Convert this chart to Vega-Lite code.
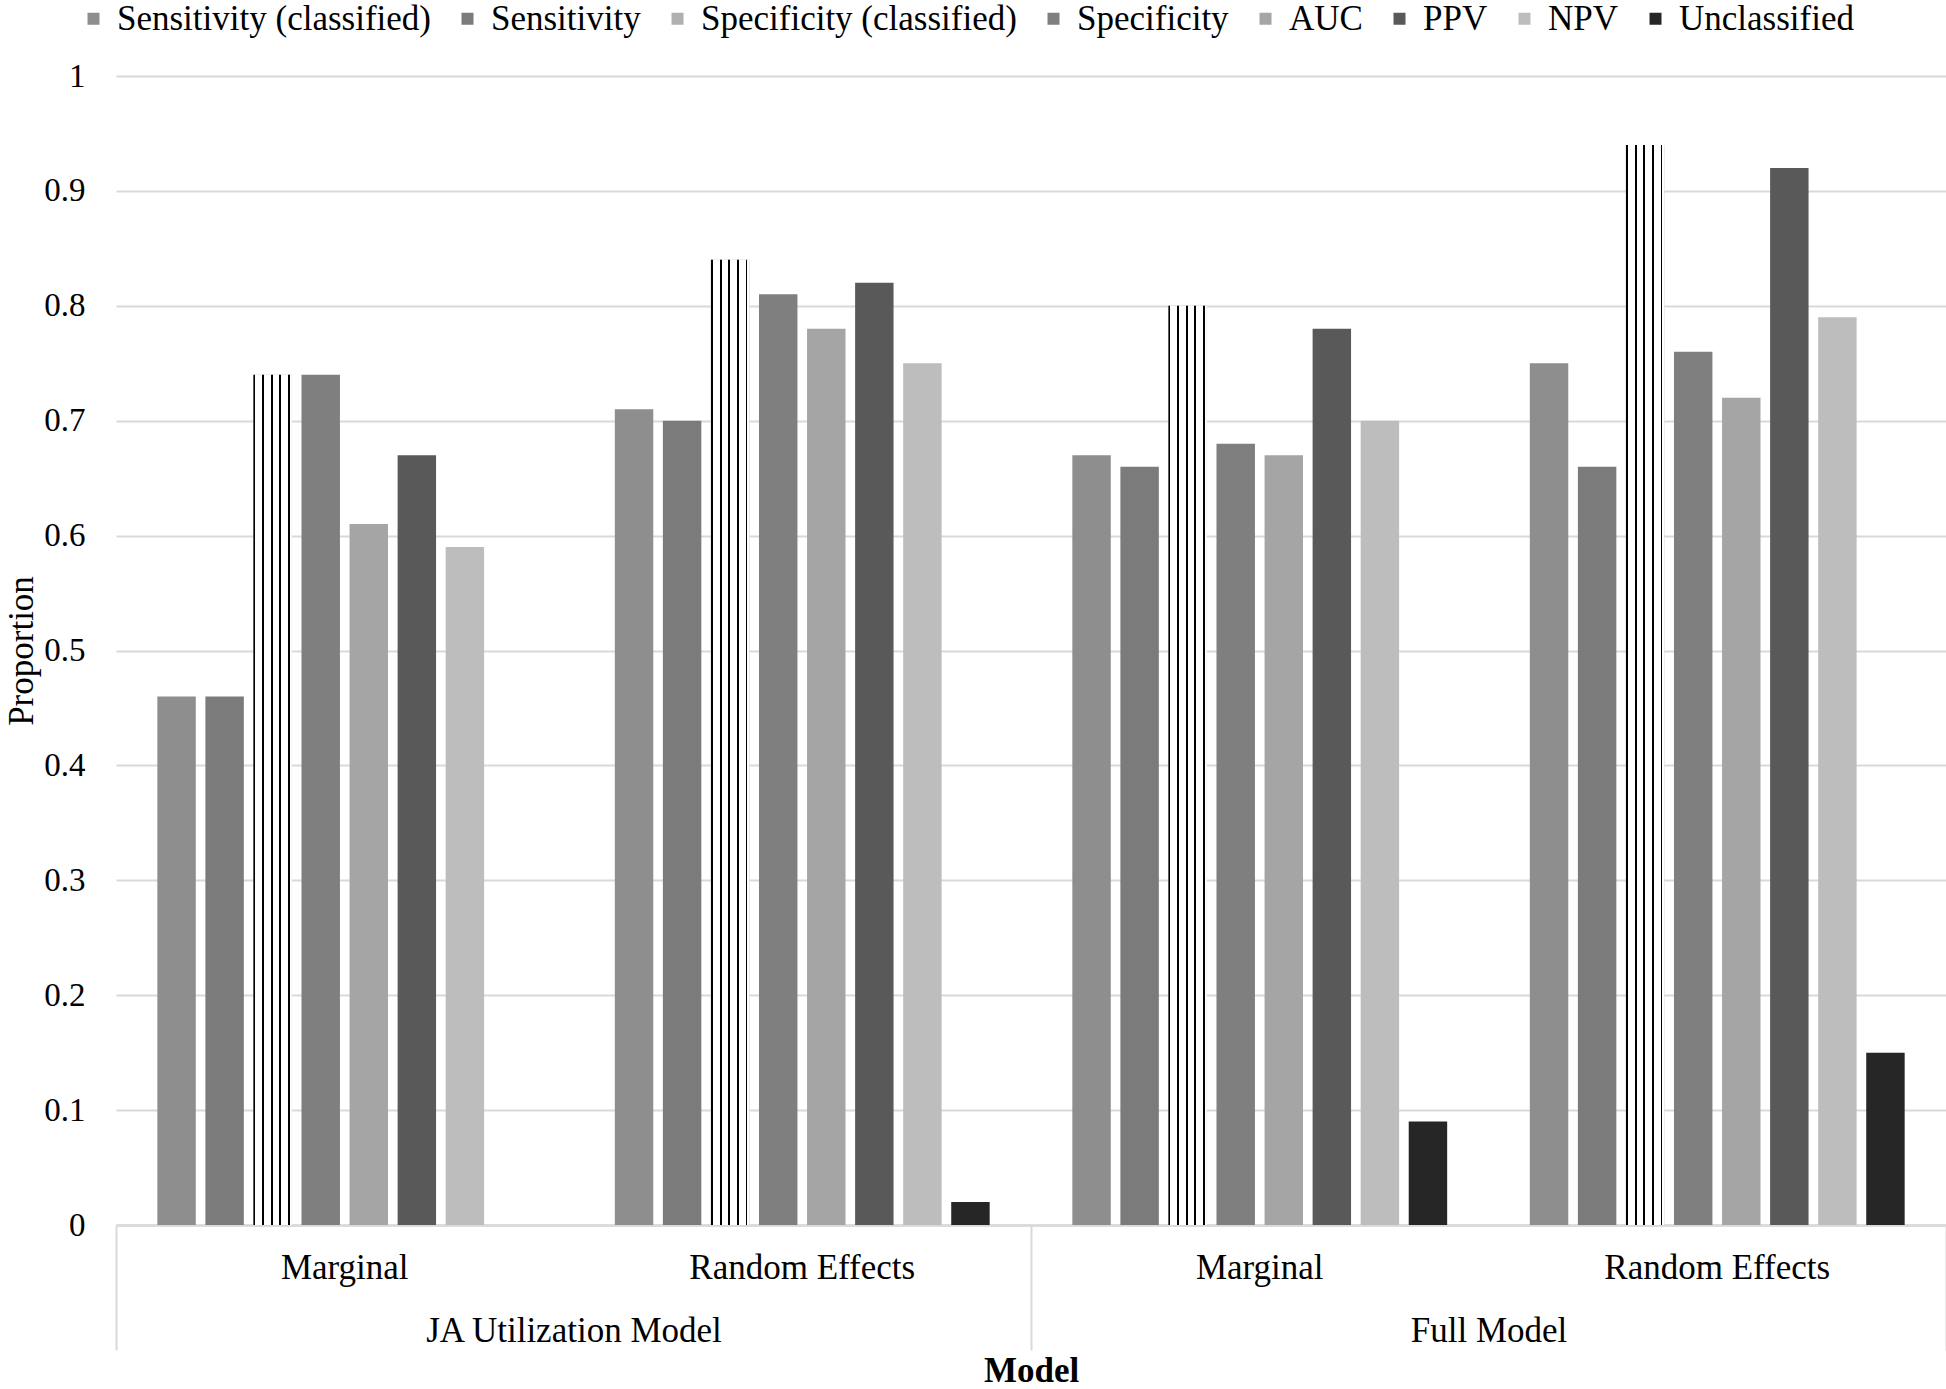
{
  "$schema": "https://vega.github.io/schema/vega-lite/v6.json",
  "width": 1830,
  "height": 1149,
  "autosize": {"type": "none"},
  "padding": {"left": 116, "top": 76, "right": 0, "bottom": 164},
  "background": "white",
  "config": {
    "font": "Liberation Serif",
    "view": {"stroke": null},
    "axis": {"labelFont": "Liberation Serif", "titleFont": "Liberation Serif", "labelColor": "#000000", "titleColor": "#000000", "labelLimit": 1000}
  },
  "data": {
    "values": [
      {"Group": "JA Utilization Model", "Type": "Marginal", "Cat": "JA Utilization Model|Marginal", "Metric": "Sensitivity (classified)", "Value": 0.46},
      {"Group": "JA Utilization Model", "Type": "Marginal", "Cat": "JA Utilization Model|Marginal", "Metric": "Sensitivity", "Value": 0.46},
      {"Group": "JA Utilization Model", "Type": "Marginal", "Cat": "JA Utilization Model|Marginal", "Metric": "Specificity (classified)", "Value": 0.74},
      {"Group": "JA Utilization Model", "Type": "Marginal", "Cat": "JA Utilization Model|Marginal", "Metric": "Specificity", "Value": 0.74},
      {"Group": "JA Utilization Model", "Type": "Marginal", "Cat": "JA Utilization Model|Marginal", "Metric": "AUC", "Value": 0.61},
      {"Group": "JA Utilization Model", "Type": "Marginal", "Cat": "JA Utilization Model|Marginal", "Metric": "PPV", "Value": 0.67},
      {"Group": "JA Utilization Model", "Type": "Marginal", "Cat": "JA Utilization Model|Marginal", "Metric": "NPV", "Value": 0.59},
      {"Group": "JA Utilization Model", "Type": "Random Effects", "Cat": "JA Utilization Model|Random Effects", "Metric": "Sensitivity (classified)", "Value": 0.71},
      {"Group": "JA Utilization Model", "Type": "Random Effects", "Cat": "JA Utilization Model|Random Effects", "Metric": "Sensitivity", "Value": 0.70},
      {"Group": "JA Utilization Model", "Type": "Random Effects", "Cat": "JA Utilization Model|Random Effects", "Metric": "Specificity (classified)", "Value": 0.84},
      {"Group": "JA Utilization Model", "Type": "Random Effects", "Cat": "JA Utilization Model|Random Effects", "Metric": "Specificity", "Value": 0.81},
      {"Group": "JA Utilization Model", "Type": "Random Effects", "Cat": "JA Utilization Model|Random Effects", "Metric": "AUC", "Value": 0.78},
      {"Group": "JA Utilization Model", "Type": "Random Effects", "Cat": "JA Utilization Model|Random Effects", "Metric": "PPV", "Value": 0.82},
      {"Group": "JA Utilization Model", "Type": "Random Effects", "Cat": "JA Utilization Model|Random Effects", "Metric": "NPV", "Value": 0.75},
      {"Group": "JA Utilization Model", "Type": "Random Effects", "Cat": "JA Utilization Model|Random Effects", "Metric": "Unclassified", "Value": 0.02},
      {"Group": "Full Model", "Type": "Marginal", "Cat": "Full Model|Marginal", "Metric": "Sensitivity (classified)", "Value": 0.67},
      {"Group": "Full Model", "Type": "Marginal", "Cat": "Full Model|Marginal", "Metric": "Sensitivity", "Value": 0.66},
      {"Group": "Full Model", "Type": "Marginal", "Cat": "Full Model|Marginal", "Metric": "Specificity (classified)", "Value": 0.80},
      {"Group": "Full Model", "Type": "Marginal", "Cat": "Full Model|Marginal", "Metric": "Specificity", "Value": 0.68},
      {"Group": "Full Model", "Type": "Marginal", "Cat": "Full Model|Marginal", "Metric": "AUC", "Value": 0.67},
      {"Group": "Full Model", "Type": "Marginal", "Cat": "Full Model|Marginal", "Metric": "PPV", "Value": 0.78},
      {"Group": "Full Model", "Type": "Marginal", "Cat": "Full Model|Marginal", "Metric": "NPV", "Value": 0.70},
      {"Group": "Full Model", "Type": "Marginal", "Cat": "Full Model|Marginal", "Metric": "Unclassified", "Value": 0.09},
      {"Group": "Full Model", "Type": "Random Effects", "Cat": "Full Model|Random Effects", "Metric": "Sensitivity (classified)", "Value": 0.75},
      {"Group": "Full Model", "Type": "Random Effects", "Cat": "Full Model|Random Effects", "Metric": "Sensitivity", "Value": 0.66},
      {"Group": "Full Model", "Type": "Random Effects", "Cat": "Full Model|Random Effects", "Metric": "Specificity (classified)", "Value": 0.94},
      {"Group": "Full Model", "Type": "Random Effects", "Cat": "Full Model|Random Effects", "Metric": "Specificity", "Value": 0.76},
      {"Group": "Full Model", "Type": "Random Effects", "Cat": "Full Model|Random Effects", "Metric": "AUC", "Value": 0.72},
      {"Group": "Full Model", "Type": "Random Effects", "Cat": "Full Model|Random Effects", "Metric": "PPV", "Value": 0.92},
      {"Group": "Full Model", "Type": "Random Effects", "Cat": "Full Model|Random Effects", "Metric": "NPV", "Value": 0.79},
      {"Group": "Full Model", "Type": "Random Effects", "Cat": "Full Model|Random Effects", "Metric": "Unclassified", "Value": 0.15}
    ]
  },
  "layer": [
    {
      "mark": {"type": "bar"},
      "encoding": {
        "x": {
          "field": "Cat", "type": "nominal",
          "sort": ["JA Utilization Model|Marginal", "JA Utilization Model|Random Effects", "Full Model|Marginal", "Full Model|Random Effects"],
          "scale": {"type": "band", "paddingInner": 0, "paddingOuter": 0},
          "axis": {
            "orient": "bottom", "title": null,
            "labelExpr": "split(datum.label, '|')[1]",
            "labelAngle": 0, "labelFontSize": 35, "labelPadding": 42, "labelBaseline": "middle", "labelLimit": 1000,
            "ticks": false, "tickSize": 0,
            "domain": true, "domainColor": "#d9d9d9", "domainWidth": 2.5, "grid": false
          }
        },
        "xOffset": {
          "field": "Metric", "type": "nominal",
          "sort": ["Sensitivity (classified)", "Sensitivity", "Specificity (classified)", "Specificity", "AUC", "PPV", "NPV", "Unclassified"],
          "scale": {"paddingInner": 0.2, "paddingOuter": 0.86}
        },
        "y": {
          "field": "Value", "type": "quantitative",
          "scale": {"domain": [0, 1]},
          "axis": {
            "title": "Proportion", "titleFontSize": 35, "titleFontWeight": "normal", "titlePadding": 4,
            "labelFontSize": 33, "labelPadding": 31,
            "ticks": false, "tickSize": 0, "domain": false,
            "grid": true, "gridColor": "#d9d9d9", "gridWidth": 2,
            "values": [0, 0.1, 0.2, 0.3, 0.4, 0.5, 0.6, 0.7, 0.8, 0.9, 1],
            "format": ".1~f"
          }
        },
        "color": {
          "field": "Metric", "type": "nominal",
          "sort": ["Sensitivity (classified)", "Sensitivity", "Specificity (classified)", "Specificity", "AUC", "PPV", "NPV", "Unclassified"],
          "scale": {
            "domain": ["Sensitivity (classified)", "Sensitivity", "Specificity (classified)", "Specificity", "AUC", "PPV", "NPV", "Unclassified"],
            "range": ["#8e8e8e", "#7b7b7b", "#b0b0b0", "#7f7f7f", "#a5a5a5", "#595959", "#bdbdbd", "#262626"]
          },
          "legend": {
            "title": null, "orient": "none", "legendX": -40, "legendY": -75,
            "direction": "horizontal", "columns": 8,
            "symbolType": "square", "symbolSize": 144, "symbolStrokeWidth": 0,
            "labelFontSize": 35, "labelFont": "Liberation Serif", "labelColor": "#000000",
            "labelOffset": 6, "columnPadding": 19, "padding": 0, "labelLimit": 800
          }
        }
      }
    },
    {
      "transform": [{"filter": "datum.Metric === 'Specificity (classified)'"}],
      "mark": {
        "type": "bar",
        "fill": {"gradient": "linear", "x1": 0, "y1": 0, "x2": 1, "y2": 0, "stops": [
          {"offset": 0, "color": "#000000"}, {"offset": 0.05, "color": "#000000"}, {"offset": 0.05, "color": "#ffffff"},
          {"offset": 0.225, "color": "#ffffff"}, {"offset": 0.225, "color": "#000000"}, {"offset": 0.275, "color": "#000000"}, {"offset": 0.275, "color": "#ffffff"},
          {"offset": 0.45, "color": "#ffffff"}, {"offset": 0.45, "color": "#000000"}, {"offset": 0.5, "color": "#000000"}, {"offset": 0.5, "color": "#ffffff"},
          {"offset": 0.675, "color": "#ffffff"}, {"offset": 0.675, "color": "#000000"}, {"offset": 0.725, "color": "#000000"}, {"offset": 0.725, "color": "#ffffff"},
          {"offset": 0.9, "color": "#ffffff"}, {"offset": 0.9, "color": "#000000"}, {"offset": 0.95, "color": "#000000"}, {"offset": 0.95, "color": "#ffffff"},
          {"offset": 1, "color": "#ffffff"}
        ]}
      },
      "encoding": {
        "x": {
          "field": "Cat", "type": "nominal",
          "sort": ["JA Utilization Model|Marginal", "JA Utilization Model|Random Effects", "Full Model|Marginal", "Full Model|Random Effects"],
          "scale": {"type": "band", "paddingInner": 0, "paddingOuter": 0},
          "axis": null
        },
        "xOffset": {
          "field": "Metric", "type": "nominal",
          "sort": ["Sensitivity (classified)", "Sensitivity", "Specificity (classified)", "Specificity", "AUC", "PPV", "NPV", "Unclassified"]
        },
        "y": {"field": "Value", "type": "quantitative"}
      }
    },
    {
      "mark": {"type": "rule", "strokeOpacity": 0},
      "encoding": {
        "x": {
          "field": "Group", "type": "nominal",
          "sort": ["JA Utilization Model", "Full Model"],
          "scale": {"type": "band", "paddingInner": 0, "paddingOuter": 0},
          "axis": {
            "orient": "bottom", "title": "Model", "titleFontSize": 35, "titleFontWeight": "bold", "titlePadding": 2,
            "labelFontSize": 35, "labelAngle": 0, "labelBaseline": "middle", "labelPadding": -20, "labelLimit": 1000,
            "tickBand": "extent", "ticks": true, "tickSize": 125, "tickColor": "#d9d9d9", "tickWidth": 2,
            "domain": false, "grid": false
          }
        }
      }
    }
  ],
  "resolve": {"scale": {"x": "independent"}, "axis": {"x": "independent"}}
}
